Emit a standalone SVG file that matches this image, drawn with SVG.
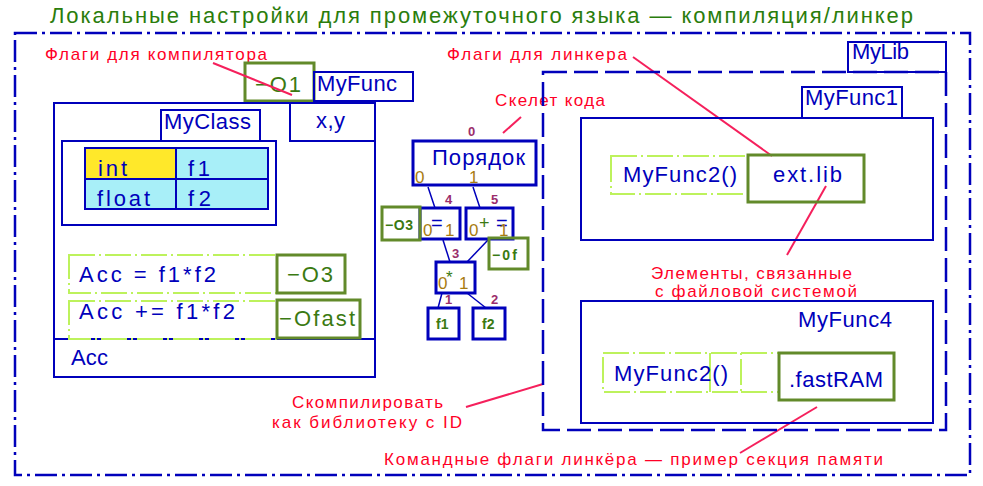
<svg xmlns="http://www.w3.org/2000/svg" width="983" height="486" viewBox="0 0 983 486">
<style>
text{font-family:"Liberation Sans","DejaVu Sans",sans-serif}
.b{fill:none;stroke:#0000bb;stroke-width:2}
.b3{fill:none;stroke:#0000bb;stroke-width:3}
.bt{fill:#0000bb;font-size:22px}
.ol{fill:none;stroke:#628a2a;stroke-width:3}
.gt{fill:#3b7a12;font-size:22px}
.lg{fill:none;stroke:#bdf25c;stroke-width:2;stroke-dasharray:26 4 2 4}
.red{fill:#ff0026;font-size:17px}
.lead{stroke:#f5205c;stroke-width:2;fill:none}
.edge{stroke:#0000bb;stroke-width:1.5;fill:none}
.pu{fill:#9b2d6b;font-size:13px;font-weight:bold}
.go{fill:#a87c10;font-size:17px}
.sg{fill:#3b7a12;font-size:14px;font-weight:bold}
</style>
<rect width="983" height="486" fill="#ffffff"/>
<text id="title" x="50" y="23" font-size="22" fill="#2a7d0c" textLength="863" lengthAdjust="spacing">Локальные настройки для промежуточного языка — компиляция/линкер</text>

<g id="outer-frame">
<rect x="15" y="33" width="955" height="442" fill="none" stroke="#0000bb" stroke-width="2.5" stroke-dasharray="22 5 3 5"/>
</g>

<g id="labels">
<text class="red" x="45" y="60" textLength="222" lengthAdjust="spacing">Флаги для компилятора</text>
<text class="red" x="447" y="60" textLength="180" lengthAdjust="spacing">Флаги для линкера</text>
<text class="red" x="495" y="106" textLength="110" lengthAdjust="spacing">Скелет кода</text>
<text class="red" x="651" y="279" textLength="201" lengthAdjust="spacing">Элементы, связанные</text>
<text class="red" x="655" y="297" textLength="202" lengthAdjust="spacing">с файловой системой</text>
<text class="red" x="292" y="408" textLength="151" lengthAdjust="spacing">Скомпилировать</text>
<text class="red" x="272" y="428" textLength="190" lengthAdjust="spacing">как библиотеку с ID</text>
<text class="red" x="384" y="465" textLength="499" lengthAdjust="spacing">Командные флаги линкёра — пример секция памяти</text>
</g>

<g id="flag-O1">
<rect class="ol" x="245" y="63" width="69" height="38"/>
<text class="gt" x="255" y="92" textLength="46" lengthAdjust="spacing">−O1</text>
</g>
<g id="myfunc-tab">
<rect class="b" x="314" y="72" width="99" height="29"/>
<text class="bt" x="317" y="91" textLength="80" lengthAdjust="spacing">MyFunc</text>
</g>

<g id="myfunc">
<rect class="b" x="54" y="103" width="321" height="274"/>
<line class="b" x1="54" y1="339" x2="375" y2="339"/>
<text class="bt" x="71" y="365" textLength="37" lengthAdjust="spacing">Acc</text>
</g>
<g id="xy">
<rect class="b" x="290" y="103" width="85" height="38"/>
<text class="bt" x="316" y="128" textLength="29" lengthAdjust="spacing">x,y</text>
</g>

<g id="myclass">
<rect class="b" x="161" y="110" width="99" height="31"/>
<text class="bt" x="164" y="129" textLength="87" lengthAdjust="spacing">MyClass</text>
<rect class="b" x="62" y="141" width="214" height="84"/>
<rect x="85" y="148" width="91" height="31" fill="#ffe82a" stroke="#0000bb" stroke-width="2"/>
<rect x="176" y="148" width="92" height="31" fill="#a8eff8" stroke="#0000bb" stroke-width="2"/>
<rect x="85" y="179" width="91" height="30" fill="#a8eff8" stroke="#0000bb" stroke-width="2"/>
<rect x="176" y="179" width="92" height="30" fill="#a8eff8" stroke="#0000bb" stroke-width="2"/>
<text class="bt" x="98" y="176" textLength="29" lengthAdjust="spacing">int</text>
<text class="bt" x="188" y="176" textLength="22" lengthAdjust="spacing">f1</text>
<text class="bt" x="97" y="206" textLength="53" lengthAdjust="spacing">float</text>
<text class="bt" x="188" y="206" textLength="23" lengthAdjust="spacing">f2</text>
</g>

<g id="acc-mul">
<rect class="lg" x="69" y="255" width="208" height="38"/>
<text class="bt" x="79" y="282" font-size="23" textLength="137" lengthAdjust="spacing">Acc = f1*f2</text>
<rect class="ol" x="277" y="255" width="68" height="38"/>
<text class="gt" x="287" y="282" font-size="23" textLength="46" lengthAdjust="spacing">−O3</text>
</g>
<g id="acc-add">
<rect class="lg" x="69" y="301" width="208" height="38"/>
<text class="bt" x="79" y="319" font-size="23" textLength="156" lengthAdjust="spacing">Acc += f1*f2</text>
<rect class="ol" x="277" y="300" width="83" height="38"/>
<text class="gt" x="279" y="326" textLength="76" lengthAdjust="spacing">−Ofast</text>
</g>

<g id="connectors">
<line class="lead" x1="213" y1="63" x2="292" y2="95"/>
<line class="lead" x1="633" y1="57" x2="772" y2="156"/>
<line class="lead" x1="503" y1="133" x2="521" y2="117"/>
<line class="lead" x1="826" y1="186" x2="787" y2="255"/>
<line class="lead" x1="466" y1="407" x2="543" y2="384"/>
<line class="lead" x1="817" y1="407" x2="740" y2="453"/>
<line class="edge" x1="428" y1="187" x2="435" y2="208"/>
<line class="edge" x1="473" y1="187" x2="480" y2="208"/>
<line class="edge" x1="443" y1="240" x2="450" y2="262"/>
<line class="edge" x1="488" y1="240" x2="467" y2="262"/>
<line class="edge" x1="442" y1="293" x2="438" y2="308"/>
<line class="edge" x1="467" y1="293" x2="486" y2="308"/>
</g>

<g id="order">
<rect class="b3" x="413" y="141" width="123" height="44"/>
<text class="bt" x="432" y="165" font-size="20" textLength="93" lengthAdjust="spacing">Порядок</text>
<text class="pu" x="468" y="136">0</text>
<text class="go" x="415" y="183">0</text>
<text class="go" x="469" y="183">1</text>
</g>
<g id="op-assign">
<rect class="b3" x="420" y="208" width="40" height="31"/>
<text class="pu" x="445" y="204">4</text>
<text x="431" y="230" font-size="20" fill="#0000bb">=</text>
<text class="go" x="423" y="236">0</text>
<text class="go" x="445" y="236">1</text>
</g>
<g id="flag-O3-small">
<rect class="ol" x="382" y="207" width="38" height="33"/>
<text class="sg" x="385" y="230" textLength="28" lengthAdjust="spacing">−O3</text>
</g>
<g id="op-addassign">
<rect class="b3" x="466" y="208" width="47" height="31"/>
<text class="pu" x="491" y="204">5</text>
<text x="479" y="229" font-size="18" fill="#3b7a12">+</text>
<text x="496" y="230" font-size="20" fill="#0000bb">=</text>
<text class="go" x="469" y="236">0</text>
<text class="go" x="499" y="236">1</text>
</g>
<g id="flag-Of-small">
<rect class="ol" x="489" y="238" width="39" height="31"/>
<text class="sg" x="492" y="260" textLength="25" lengthAdjust="spacing">−0f</text>
</g>
<g id="op-mul">
<rect class="b3" x="436" y="262" width="39" height="31"/>
<text class="pu" x="452" y="258">3</text>
<text x="446" y="283" font-size="17" fill="#3b7a12">*</text>
<text class="go" x="438" y="289">0</text>
<text class="go" x="459" y="289">1</text>
</g>
<g id="leaf-f1">
<rect class="b3" x="428" y="308" width="31" height="31"/>
<text class="pu" x="445" y="304">1</text>
<text class="sg" x="436" y="329">f1</text>
</g>
<g id="leaf-f2">
<rect class="b3" x="473" y="308" width="32" height="31"/>
<text class="pu" x="491" y="304">2</text>
<text class="sg" x="482" y="329">f2</text>
</g>

<g id="mylib">
<rect x="543" y="72" width="403" height="358" fill="none" stroke="#0000bb" stroke-width="2.5" stroke-dasharray="24 7"/>
<rect class="b" x="848" y="42" width="98" height="30"/>
<text class="bt" x="852" y="59" textLength="57" lengthAdjust="spacing">MyLib</text>
</g>
<g id="myfunc1">
<rect class="b" x="802" y="87" width="100" height="31"/>
<text class="bt" x="805" y="105" textLength="93" lengthAdjust="spacing">MyFunc1</text>
<rect class="b" x="581" y="118" width="352" height="122"/>
<rect class="lg" x="611" y="156" width="137" height="38"/>
<text class="bt" x="623" y="182" font-size="23" textLength="114" lengthAdjust="spacing">MyFunc2()</text>
</g>
<g id="extlib">
<rect class="ol" x="748" y="155" width="116" height="47"/>
<text class="bt" x="773" y="182" font-size="23" textLength="69" lengthAdjust="spacing">ext.lib</text>
</g>
<g id="myfunc4">
<rect class="b" x="581" y="301" width="352" height="122"/>
<text class="bt" x="798" y="327" textLength="94" lengthAdjust="spacing">MyFunc4</text>
<rect class="lg" x="603" y="353" width="138" height="39"/>
<line x1="710" y1="353" x2="710" y2="392" stroke="#bdf25c" stroke-width="2"/>
<line class="lg" x1="741" y1="353" x2="779" y2="353"/>
<line class="lg" x1="741" y1="392" x2="779" y2="392"/>
<text class="bt" x="614" y="381" font-size="23" textLength="114" lengthAdjust="spacing">MyFunc2()</text>
</g>
<g id="fastram">
<rect class="ol" x="779" y="353" width="115" height="47"/>
<text class="bt" x="789" y="387" font-size="23" textLength="94" lengthAdjust="spacing">.fastRAM</text>
</g>
</svg>
